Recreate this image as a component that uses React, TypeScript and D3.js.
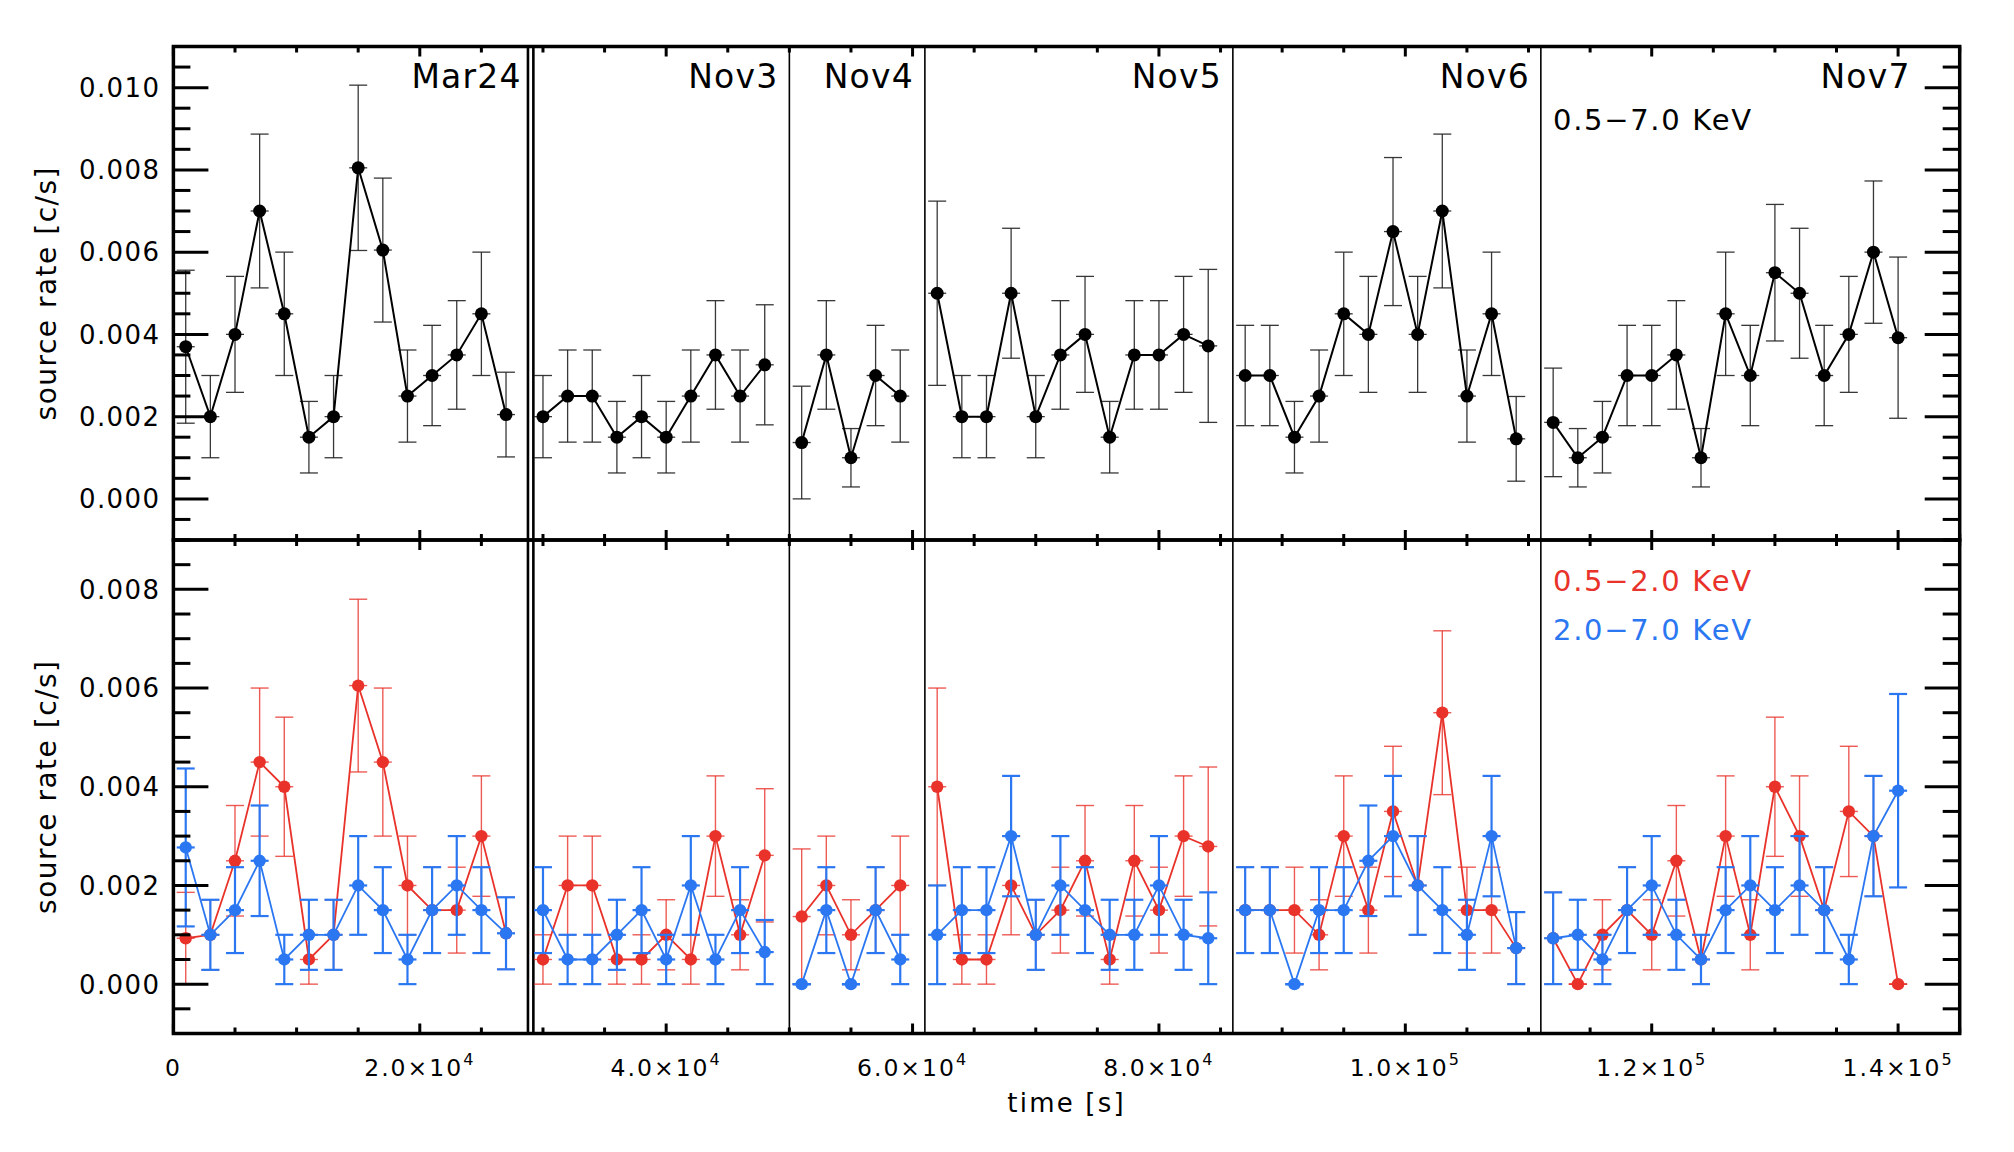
import React from "react";
import * as d3 from "d3";

// ---------------- DATA ----------------
const segmentNames = ["Mar24", "Nov3", "Nov4", "Nov5", "Nov6", "Nov7"];
// segment boundaries in seconds (first / last are the axis limits)
const segmentBounds = [0, 29000, 50000, 61000, 86000, 111000, 145000];

const segmentTimes = [
  [1000, 3000, 5000, 7000, 9000, 11000, 13000, 15000, 17000, 19000, 21000, 23000, 25000, 27000],
  [30000, 32000, 34000, 36000, 38000, 40000, 42000, 44000, 46000, 48000],
  [51000, 53000, 55000, 57000, 59000],
  [62000, 64000, 66000, 68000, 70000, 72000, 74000, 76000, 78000, 80000, 82000, 84000],
  [87000, 89000, 91000, 93000, 95000, 97000, 99000, 101000, 103000, 105000, 107000, 109000],
  [112000, 114000, 116000, 118000, 120000, 122000, 124000, 126000, 128000, 130000, 132000, 134000, 136000, 138000, 140000],
];

// 0.5-7.0 keV (black), units 1e-3 c/s
const fullRate = [
  [3.7, 2.0, 4.0, 7.0, 4.5, 1.5, 2.0, 8.05, 6.05, 2.5, 3.0, 3.5, 4.5, 2.05],
  [2.0, 2.5, 2.5, 1.5, 2.0, 1.5, 2.5, 3.5, 2.5, 3.26],
  [1.37, 3.5, 1.0, 3.0, 2.5],
  [5.0, 2.0, 2.0, 5.0, 2.0, 3.5, 4.0, 1.5, 3.5, 3.5, 4.0, 3.72],
  [3.0, 3.0, 1.5, 2.5, 4.5, 4.0, 6.5, 4.0, 7.0, 2.5, 4.5, 1.46],
  [1.86, 1.0, 1.5, 3.0, 3.0, 3.5, 1.0, 4.5, 3.0, 5.5, 5.0, 3.0, 4.0, 6.0, 3.92],
];
const fullErr = [
  [1.86, 1.0, 1.41, 1.87, 1.5, 0.87, 1.0, 2.01, 1.75, 1.12, 1.22, 1.32, 1.5, 1.03],
  [1.0, 1.12, 1.12, 0.87, 1.0, 0.87, 1.12, 1.32, 1.12, 1.46],
  [1.37, 1.32, 0.71, 1.22, 1.12],
  [2.24, 1.0, 1.0, 1.58, 1.0, 1.32, 1.41, 0.87, 1.32, 1.32, 1.41, 1.86],
  [1.22, 1.22, 0.87, 1.12, 1.5, 1.41, 1.8, 1.41, 1.87, 1.12, 1.5, 1.03],
  [1.32, 0.71, 0.87, 1.22, 1.22, 1.32, 0.71, 1.5, 1.22, 1.66, 1.58, 1.22, 1.41, 1.73, 1.96],
];

// 0.5-2.0 keV (red)
const softRate = [
  [0.93, 1.0, 2.5, 4.5, 4.0, 0.5, 1.0, 6.05, 4.5, 2.0, 1.5, 1.5, 3.0, 1.03],
  [0.5, 2.0, 2.0, 0.5, 0.5, 1.0, 0.5, 3.0, 1.0, 2.61],
  [1.37, 2.0, 1.0, 1.5, 2.0],
  [4.0, 0.5, 0.5, 2.0, 1.0, 1.5, 2.5, 0.5, 2.5, 1.5, 3.0, 2.79],
  [1.5, 1.5, 1.5, 1.0, 3.0, 1.5, 3.5, 2.0, 5.5, 1.5, 1.5, 0.73],
  [0.93, 0.0, 1.0, 1.5, 1.0, 2.5, 0.5, 3.0, 1.0, 4.0, 3.0, 1.5, 3.5, 3.0, 0.0],
];
const softErr = [
  [0.93, 0.71, 1.12, 1.5, 1.41, 0.5, 0.71, 1.75, 1.5, 1.0, 0.87, 0.87, 1.22, 0.73],
  [0.5, 1.0, 1.0, 0.5, 0.5, 0.71, 0.5, 1.22, 0.71, 1.35],
  [1.37, 1.0, 0.71, 0.87, 1.0],
  [2.0, 0.5, 0.5, 1.0, 0.71, 0.87, 1.12, 0.5, 1.12, 0.87, 1.22, 1.61],
  [0.87, 0.87, 0.87, 0.71, 1.22, 0.87, 1.32, 1.0, 1.66, 0.87, 0.87, 0.73],
  [0.93, 0.0, 0.71, 0.87, 0.71, 1.12, 0.5, 1.22, 0.71, 1.41, 1.22, 0.87, 1.32, 1.22, 0.0],
];

// 2.0-7.0 keV (blue)
const hardRate = [
  [2.77, 1.0, 1.5, 2.5, 0.5, 1.0, 1.0, 2.0, 1.5, 0.5, 1.5, 2.0, 1.5, 1.03],
  [1.5, 0.5, 0.5, 1.0, 1.5, 0.5, 2.0, 0.5, 1.5, 0.65],
  [0.0, 1.5, 0.0, 1.5, 0.5],
  [1.0, 1.5, 1.5, 3.0, 1.0, 2.0, 1.5, 1.0, 1.0, 2.0, 1.0, 0.93],
  [1.5, 1.5, 0.0, 1.5, 1.5, 2.5, 3.0, 2.0, 1.5, 1.0, 3.0, 0.73],
  [0.93, 1.0, 0.5, 1.5, 2.0, 1.0, 0.5, 1.5, 2.0, 1.5, 2.0, 1.5, 0.5, 3.0, 3.92],
];
const hardErr = [
  [1.6, 0.71, 0.87, 1.12, 0.5, 0.71, 0.71, 1.0, 0.87, 0.5, 0.87, 1.0, 0.87, 0.73],
  [0.87, 0.5, 0.5, 0.71, 0.87, 0.5, 1.0, 0.5, 0.87, 0.65],
  [0.0, 0.87, 0.0, 0.87, 0.5],
  [1.0, 0.87, 0.87, 1.22, 0.71, 1.0, 0.87, 0.71, 0.71, 1.0, 0.71, 0.93],
  [0.87, 0.87, 0.0, 0.87, 0.87, 1.12, 1.22, 1.0, 0.87, 0.71, 1.22, 0.73],
  [0.93, 0.71, 0.5, 0.87, 1.0, 0.71, 0.5, 0.87, 1.0, 0.87, 1.0, 0.87, 0.5, 1.22, 1.96],
];

const rateUnit = 0.001;
const topYDomain = [-0.001, 0.011];
const botYDomain = [-0.001, 0.009];
const xDomain = [0, 145000];

const topLegend = "0.5\u22127.0 KeV";
const softLegend = "0.5\u22122.0 KeV";
const hardLegend = "2.0\u22127.0 KeV";
const yTitle = "source rate [c/s]";
const xTitle = "time [s]";

// ---------------- LAYOUT / STYLE ----------------
const W = 2014;
const H = 1152;
const L = 173.4;
const R = 1959.7;
const T = 46.5;
const M = 540;
const B = 1033.5;
const FONT = "'DejaVu Sans', Verdana, sans-serif";
const RED = "#e8322a";
const BLUE = "#2b77f2";

const x = d3.scaleLinear().domain(xDomain).range([L, R]);
const yTop = d3.scaleLinear().domain(topYDomain).range([M, T]);
const yBot = d3.scaleLinear().domain(botYDomain).range([B, M]);

type Pt = { t: number; v: number; e: number };

function seriesOf(rates: number[][], errs: number[][]): Pt[][] {
  return segmentTimes.map((ts, i) =>
    ts.map((t, j) => ({ t, v: rates[i][j] * rateUnit, e: errs[i][j] * rateUnit }))
  );
}

const fullSeries = seriesOf(fullRate, fullErr);
const softSeries = seriesOf(softRate, softErr);
const hardSeries = seriesOf(hardRate, hardErr);

function Series({
  data,
  y,
  color,
  lineW,
  errColor,
  errW,
  errOpacity,
  r,
}: {
  data: Pt[][];
  y: d3.ScaleLinear<number, number>;
  color: string;
  lineW: number;
  errColor: string;
  errW: number;
  errOpacity: number;
  r: number;
}) {
  const line = d3
    .line<Pt>()
    .x((d) => x(d.t))
    .y((d) => y(d.v));
  const cap = 9;
  return (
    <g>
      {data.map((seg, i) => (
        <g key={i}>
          {seg.map((d, j) => {
            const cx = x(d.t);
            const y0 = y(d.v - d.e);
            const y1 = y(d.v + d.e);
            const yc = y(d.v);
            return (
              <g key={j} stroke={errColor} strokeWidth={errW} strokeOpacity={errOpacity}>
                <line x1={cx} x2={cx} y1={y0} y2={y1} />
                <line x1={cx - cap} x2={cx + cap} y1={y0} y2={y0} />
                <line x1={cx - cap} x2={cx + cap} y1={y1} y2={y1} />
                <line x1={cx - cap} x2={cx + cap} y1={yc} y2={yc} />
              </g>
            );
          })}
          <path d={line(seg) || ""} fill="none" stroke={color} strokeWidth={lineW} />
          {seg.map((d, j) => (
            <circle key={j} cx={x(d.t)} cy={y(d.v)} r={r} fill={color} />
          ))}
        </g>
      ))}
    </g>
  );
}

function Frame({ y, top, bottom, yMax }: { y: d3.ScaleLinear<number, number>; top: number; bottom: number; yMax: number }) {
  const [d0, d1] = y.domain();
  const yTicks = d3.range(Math.ceil(d0 / 0.0005), Math.floor(d1 / 0.0005) + 1).map((k) => k * 0.0005);
  const xTicks = d3.range(0, xDomain[1] + 1, 5000);
  const isMajorY = (v: number) => Math.abs(Math.round(v / 0.002) * 0.002 - v) < 1e-9;
  return (
    <g>
      {yTicks.map((v, i) => {
        const len = isMajorY(v) ? 35 : 17;
        const yy = y(v);
        return (
          <g key={"y" + i} stroke="#000" strokeWidth={3}>
            <line x1={L} x2={L + len} y1={yy} y2={yy} />
            <line x1={R} x2={R - len} y1={yy} y2={yy} />
          </g>
        );
      })}
      {yTicks
        .filter((v) => isMajorY(v) && v >= 0 && v <= yMax + 1e-9)
        .map((v, i) => (
          <text
            key={"yl" + i}
            x={L - 13}
            y={y(v)}
            dy="0.36em"
            textAnchor="end"
            fontSize={26}
            fontFamily={FONT}
            letterSpacing={1.4}
          >
            {d3.format(".3f")(v)}
          </text>
        ))}
      {xTicks.map((t, i) => {
        const len = t % 20000 === 0 ? 10 : 6;
        const xx = x(t);
        return (
          <g key={"x" + i} stroke="#000" strokeWidth={3}>
            <line x1={xx} x2={xx} y1={top} y2={top + len} />
            <line x1={xx} x2={xx} y1={bottom} y2={bottom - len} />
          </g>
        );
      })}
      <rect x={L} y={top} width={R - L} height={bottom - top} fill="none" stroke="#000" strokeWidth={3.5} />
      <text
        transform={`translate(56,${(top + bottom) / 2}) rotate(-90)`}
        textAnchor="middle"
        fontSize={28}
        fontFamily={FONT}
        letterSpacing={1.5}
      >
        {yTitle}
      </text>
    </g>
  );
}

function xLabel(t: number) {
  if (t === 0) return { main: "0", sup: "" };
  const e = Math.floor(Math.log10(t));
  const m = t / Math.pow(10, e);
  return { main: m.toFixed(1) + "\u00d710", sup: String(e) };
}

export default function App() {
  const xMajor = d3.range(0, 140001, 20000);
  const seps = segmentBounds.slice(1, -1);
  return (
    <svg
      width={W}
      height={H}
      viewBox={`0 0 ${W} ${H}`}
      style={{ position: "absolute", left: 0, top: 0, background: "#fff" }}
    >
      <rect x={0} y={0} width={W} height={H} fill="#fff" />

      {/* segment separators */}
      {seps.map((s, i) =>
        i === 0 ? (
          <g key={i} stroke="#000" strokeWidth={2.6}>
            <line x1={x(s) - 2.7} x2={x(s) - 2.7} y1={T} y2={B} />
            <line x1={x(s) + 2.7} x2={x(s) + 2.7} y1={T} y2={B} />
          </g>
        ) : (
          <line key={i} x1={x(s)} x2={x(s)} y1={T} y2={B} stroke="#000" strokeWidth={1.6} />
        )
      )}

      {/* data */}
      <Series data={fullSeries} y={yTop} color="#000" lineW={2} errColor="#222" errW={1.3} errOpacity={0.9} r={6.5} />
      <Series data={softSeries} y={yBot} color={RED} lineW={1.8} errColor={RED} errW={1.4} errOpacity={0.8} r={6.2} />
      <Series data={hardSeries} y={yBot} color={BLUE} lineW={1.8} errColor={BLUE} errW={2.2} errOpacity={1} r={6.2} />

      <Frame y={yTop} top={T} bottom={M} yMax={0.010} />
      <Frame y={yBot} top={M} bottom={B} yMax={0.008} />

      {/* segment names */}
      {segmentNames.map((n, i) => {
        const right = i === segmentNames.length - 1 ? R - 49 : x(segmentBounds[i + 1]) - (i === 0 ? 9 : 11);
        return (
          <text key={n} x={right} y={88} textAnchor="end" fontSize={33} fontFamily={FONT} letterSpacing={1.2}>
            {n}
          </text>
        );
      })}

      {/* legends */}
      <text x={1553} y={129.5} fontSize={29} fontFamily={FONT} letterSpacing={1.7}>
        {topLegend}
      </text>
      <text x={1553} y={591} fontSize={29} fontFamily={FONT} letterSpacing={1.7} fill={RED}>
        {softLegend}
      </text>
      <text x={1553} y={639.5} fontSize={29} fontFamily={FONT} letterSpacing={1.7} fill={BLUE}>
        {hardLegend}
      </text>

      {/* x tick labels */}
      {xMajor.map((t) => {
        const lb = xLabel(t);
        return (
          <text key={t} x={x(t)} y={1076} textAnchor="middle" fontSize={23.5} fontFamily={FONT} letterSpacing={2}>
            {lb.main}
            {lb.sup && (
              <tspan fontSize={16} dy={-11}>
                {lb.sup}
              </tspan>
            )}
          </text>
        );
      })}
      <text x={(L + R) / 2} y={1112} textAnchor="middle" fontSize={26} fontFamily={FONT} letterSpacing={2.2}>
        {xTitle}
      </text>
    </svg>
  );
}
